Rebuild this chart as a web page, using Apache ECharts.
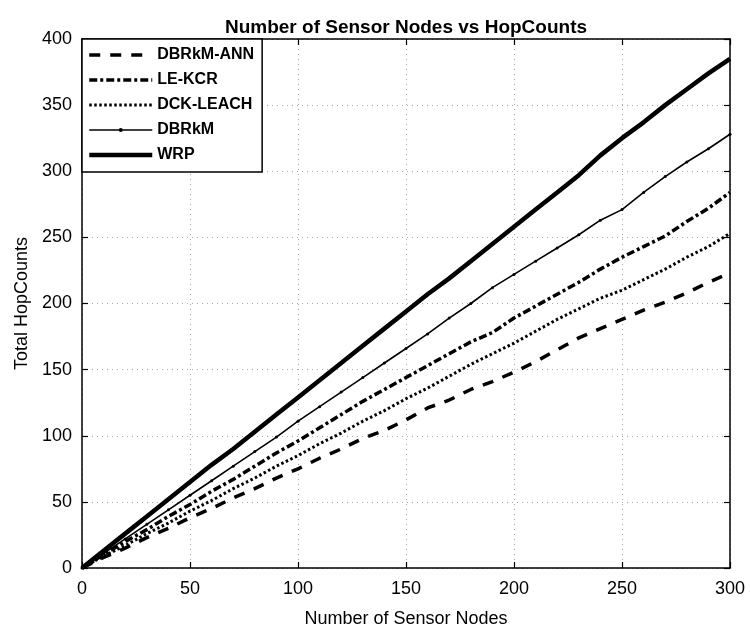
<!DOCTYPE html>
<html>
<head>
<meta charset="utf-8">
<script src="https://cdn.jsdelivr.net/npm/echarts@6/dist/echarts.min.js"></script>
<style>
  html, body { margin: 0; padding: 0; background: #fff; }
  #chart { width: 750px; height: 633px; }
</style>
</head>
<body>
<div id="chart"></div>
<script>
// ---- data ----
var nodes = [0,10,20,30,40,50,60,70,80,90,100,110,120,130,140,150,160,170,180,190,200,210,220,230,240,250,260,270,280,290,300];
var dbrkmAnn = [0,8,15,23,30,38,45,53,60,68,75,83,90,98,104,112,121,127,135,141,148,156,165,174,181,188,195,201,208,216,223];
var leKcr    = [0,10,20,29,39,48,58,67,77,87,96,106,116,126,135,144,153,162,171,178,189,198,207,216,226,235,243,251,262,272,284];
var dckLeach = [0,9,17,26,34,43,51,60,68,77,85,94,102,111,119,128,136,145,154,162,170,179,188,196,204,210,218,226,235,243,253];
var dbrkm    = [0,11,22,33,44,55,66,77,88,99,111,122,133,144,155,166,177,189,200,212,222,232,242,252,263,271,284,296,307,317,328];
var wrp      = [0,13,26,39,52,65,78,90,103,116,129,142,155,168,181,194,207,219,232,245,258,271,284,297,312,325,337,350,362,374,385];
var seriesNames = ['DBRkM-ANN','LE-KCR','DCK-LEACH','DBRkM','WRP'];
var xTicks = [0,50,100,150,200,250,300];
var yTicks = [0,50,100,150,200,250,300,350,400];

function pairs(ys) { return nodes.map(function (x, i) { return [x, ys[i]]; }); }

var FONT = 'Liberation Sans, Arial, sans-serif';
var chart = echarts.init(document.getElementById('chart'), null, { renderer: 'canvas' });

var gridLine = { show: true, lineStyle: { color: '#a8a8a8', type: [1, 4], width: 1 } };

var styles = {
  'DBRkM-ANN': { color: '#000', width: 3.5, type: [11, 10] },
  'LE-KCR':    { color: '#000', width: 3.5, type: [8, 3, 3, 3] },
  'DCK-LEACH': { color: '#000', width: 3, type: [2.5, 2.5] },
  'DBRkM':     { color: '#000', width: 1.6, type: 'solid' },
  'WRP':       { color: '#000', width: 4.5, type: 'solid' }
};

var legendData = seriesNames.map(function (n) {
  return {
    name: n,
    lineStyle: styles[n],
    itemStyle: n === 'DBRkM' ? { color: '#000', opacity: 1, borderWidth: 0 } : { opacity: 0 }
  };
});

var option = {
  backgroundColor: '#ffffff',
  animation: false,
  title: {
    text: 'Number of Sensor Nodes vs HopCounts',
    left: 406, textAlign: 'center', top: 18, padding: 0,
    textStyle: { fontFamily: FONT, fontSize: 19, fontWeight: 'bold', color: '#000' }
  },
  grid: { left: 82, right: 20, top: 39, bottom: 64, containLabel: false },
  legend: {
    orient: 'vertical', left: 82, top: 39,
    data: legendData,
    itemWidth: 63, itemHeight: 5, itemGap: 9,
    padding: [8, 8, 9, 5],
    borderColor: '#000', borderWidth: 1.5, backgroundColor: '#fff',
    textStyle: { fontFamily: FONT, fontSize: 16, fontWeight: 'bold', color: '#000', lineHeight: 16 },
    inactiveColor: '#000'
  },
  xAxis: [{
    type: 'value', min: 0, max: 300, interval: 50, position: 'bottom',
    name: 'Number of Sensor Nodes', nameLocation: 'middle', nameGap: 42,
    nameTextStyle: { fontFamily: FONT, fontSize: 18, color: '#000' },
    axisLine: { show: true, onZero: false, lineStyle: { color: '#000', width: 1.5 } },
    axisTick: { show: true, inside: true, length: 6, lineStyle: { color: '#000', width: 1.2 } },
    axisLabel: { fontFamily: FONT, fontSize: 18, color: '#000', margin: 12,
      formatter: function (v) { return xTicks.indexOf(v) >= 0 ? String(v) : ''; } },
    splitLine: gridLine
  }, {
    type: 'value', min: 0, max: 300, interval: 50, position: 'top',
    axisLine: { show: true, onZero: false, lineStyle: { color: '#000', width: 1.5 } },
    axisTick: { show: true, inside: true, length: 6, lineStyle: { color: '#000', width: 1.2 } },
    axisLabel: { show: false }, splitLine: { show: false }
  }],
  yAxis: [{
    type: 'value', min: 0, max: 400, interval: 50, position: 'left',
    name: 'Total HopCounts', nameLocation: 'middle', nameGap: 50,
    nameTextStyle: { fontFamily: FONT, fontSize: 18, color: '#000' },
    axisLine: { show: true, onZero: false, lineStyle: { color: '#000', width: 1.5 } },
    axisTick: { show: true, inside: true, length: 6, lineStyle: { color: '#000', width: 1.2 } },
    axisLabel: { fontFamily: FONT, fontSize: 18, color: '#000', margin: 10,
      formatter: function (v) { return yTicks.indexOf(v) >= 0 ? String(v) : ''; } },
    splitLine: gridLine
  }, {
    type: 'value', min: 0, max: 400, interval: 50, position: 'right',
    axisLine: { show: true, onZero: false, lineStyle: { color: '#000', width: 1.5 } },
    axisTick: { show: true, inside: true, length: 6, lineStyle: { color: '#000', width: 1.2 } },
    axisLabel: { show: false }, splitLine: { show: false }
  }],
  series: [
    { name: 'DBRkM-ANN', type: 'line', data: pairs(dbrkmAnn), symbol: 'none', color: '#000',
      lineStyle: styles['DBRkM-ANN'] },
    { name: 'LE-KCR', type: 'line', data: pairs(leKcr), symbol: 'none', color: '#000',
      lineStyle: styles['LE-KCR'] },
    { name: 'DCK-LEACH', type: 'line', data: pairs(dckLeach), symbol: 'none', color: '#000',
      lineStyle: styles['DCK-LEACH'] },
    { name: 'DBRkM', type: 'line', data: pairs(dbrkm), symbol: 'circle', symbolSize: 3, color: '#000',
      itemStyle: { color: '#000' }, lineStyle: styles['DBRkM'] },
    { name: 'WRP', type: 'line', data: pairs(wrp), symbol: 'none', color: '#000',
      lineStyle: styles['WRP'] }
  ]
};
chart.setOption(option);
</script>
</body>
</html>
